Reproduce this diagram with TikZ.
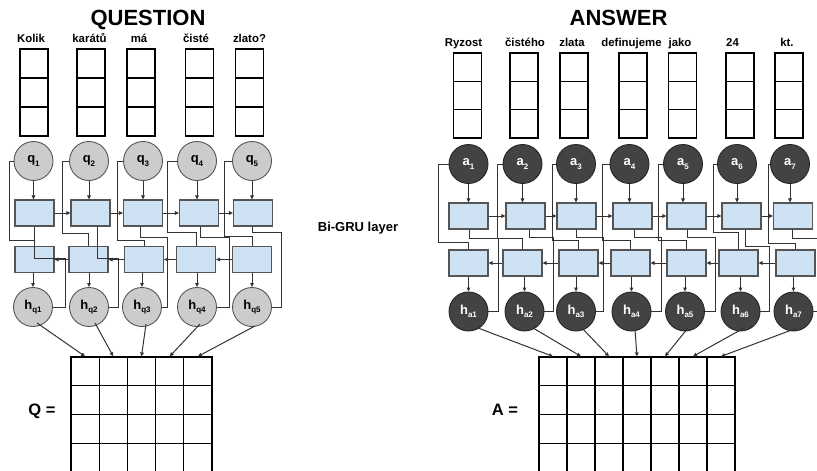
\documentclass[tikz,border=0pt]{standalone}
\usepackage{fontspec}
\setmainfont{Liberation Sans}
\usetikzlibrary{arrows.meta,calc}
\definecolor{qfill}{HTML}{CCCCCC}
\definecolor{afill}{HTML}{434343}
\definecolor{grufill}{HTML}{CFE2F3}
\definecolor{edgec}{HTML}{555555}
\definecolor{wirec}{HTML}{333333}
\newcommand{\clab}[2]{{\fontsize{13}{13}\selectfont #1}\raisebox{-3.5pt}{\fontsize{8}{8}\selectfont #2}}
\begin{document}
\begin{tikzpicture}[x=1pt,y=-1pt,
  every node/.style={font=\bfseries},
  wcell/.style={draw=black,line width=1.2pt,fill=white,minimum width=28pt,inner sep=0pt},
  mcell/.style={draw=black,line width=1.2pt,fill=white,minimum width=28.2pt,minimum height=28.7pt,inner sep=0pt},
  wlab/.style={anchor=base,font=\bfseries\fontsize{11.4}{12}\selectfont,inner sep=0pt},
  ttl/.style={anchor=base,font=\bfseries\fontsize{22}{22}\selectfont,inner sep=0pt},
  qc/.style={circle,draw=edgec,line width=0.9pt,fill=qfill,minimum size=39pt,inner sep=0pt},
  ac/.style={circle,draw=black!85,line width=0.9pt,fill=afill,text=white,minimum size=39pt,inner sep=0pt},
  gru/.style={rectangle,draw=edgec,line width=1.2pt,fill=grufill,minimum width=39pt,minimum height=26pt,inner sep=0pt},
  wire/.style={draw=wirec,line width=1pt},
  arr/.style={wire,-{Triangle[length=4pt,width=3.6pt]}}
]
\useasboundingbox (0,0) rectangle (817,471);
\fill[white] (0,0) rectangle (817,471);

% ---------------- QUESTION ----------------
\node[ttl] (qtitle) at (148,25) {QUESTION};
\foreach \x/\w [count=\i] in {31/Kolik,89.5/karátů,139/má,196/čisté,249.5/zlato?}
  \node[wlab] (qword\i) at (\x,42) {\w};
\foreach \x [count=\i] in {34,91,141,199.5,249.5}
  \foreach \y [count=\j] in {63.5,92.5,121.5}
    \node[wcell,minimum height=29pt] (qv\i\j) at (\x,\y) {};

\foreach \qx/\fx/\bx/\hx [count=\i] in {33.5/34.5/34.5/33, 89/90.5/88.5/89, 143/143/144/142, 197/199/196/197, 252/253/252/252}{
  \node[qc] (q\i) at (\qx,161) {\clab{q}{\i}};
  \node[gru] (f\i) at (\fx,213) {};
  \node[gru] (b\i) at (\bx,259.5) {};
  \node[qc] (hq\i) at (\hx,307) {\clab{h}{q\i}};
}
% inputs to forward cells, backward cells to outputs
\foreach \i in {1,...,5}{
  \draw[arr] (q\i.south) -- (q\i.south |- f\i.north);
  \draw[arr] (b\i.south -| hq\i) -- (hq\i.north);
}
% recurrent links
\foreach \i/\j in {1/2,2/3,3/4,4/5}{
  \draw[arr] (f\i.east) -- (f\j.west);
  \draw[arr] (b\j.west) -- (b\i.east);
}
% inputs to backward cells
\foreach \i/\xl/\yg in {1/9/240, 2/62/233, 3/117/240, 4/167/232, 5/224/236}
  \draw[wire] (q\i.west) -| (\xl,\yg) -| (b\i.north);
% forward cells to outputs
\foreach \i/\dx/\yg/\xr in {1/0/258/65, 2/6.5/258/118, 3/-3/237/167, 4/1/237/229, 5/-1/232/281}
  \draw[wire] ([xshift=\dx pt]f\i.south) |- (\xr,\yg) |- (hq\i.east);

% Q matrix
\foreach \c in {1,...,5}
  \foreach \r in {1,...,4}
    \node[mcell] (Q\r\c) at ({71+28.2*(\c-0.5)},{357+28.7*(\r-0.5)}) {};
\node[anchor=base,font=\bfseries\fontsize{16.5}{16.5}\selectfont,inner sep=0pt] (Qeq) at (42,415) {Q =};
\foreach \i/\ox/\oy in {1/4/16, 2/6/16, 3/4/17, 4/3/17, 5/3/19}
  \draw[arr] ($(hq\i)+(\ox,\oy)$) -- (Q1\i.north);

% label
\node[anchor=base,font=\bfseries\fontsize{13}{13}\selectfont,inner sep=0pt] (bigru) at (358,231.5) {Bi-GRU layer};

% ---------------- ANSWER ----------------
\node[ttl] (atitle) at (618.5,25) {ANSWER};
\foreach \x/\w [count=\i] in {463.5/Ryzost,525/čistého,572/zlata,631.5/definujeme,680/jako,732.5/24,787/kt.}
  \node[wlab] (aword\i) at (\x,46) {\w};
\foreach \x [count=\i] in {467.5,524,574,633,682.5,740,789}
  \foreach \y [count=\j] in {67.2,95.5,123.8}
    \node[wcell,minimum height=28.3pt] (av\i\j) at (\x,\y) {};

\foreach \ax/\fx/\bx/\hx [count=\i] in {468.5/468.5/468.5/468.5, 522.5/525.5/522.5/524.5, 576/576.5/578.5/576, 629.5/632.5/630.5/631.5, 683/686.5/686.5/685, 737/741.5/738.5/740.5, 790/793/795.5/793.5}{
  \node[ac] (a\i) at (\ax,164) {\clab{a}{\i}};
  \node[gru] (fa\i) at (\fx,216) {};
  \node[gru] (ba\i) at (\bx,263) {};
  \node[ac] (ha\i) at (\hx,311.5) {\clab{h}{a\i}};
}
\foreach \i in {1,...,7}{
  \draw[arr] (a\i.south) -- (a\i.south |- fa\i.north);
  \draw[arr] (ba\i.south -| ha\i) -- (ha\i.north);
}
\foreach \i/\j in {1/2,2/3,3/4,4/5,5/6,6/7}{
  \draw[arr] (fa\i.east) -- (fa\j.west);
  \draw[arr] (ba\j.west) -- (ba\i.east);
}
\foreach \i/\xl/\yg in {1/438/242, 2/497/238, 3/552/240, 4/602/240, 5/658/240, 6/713/232, 7/768/243}
  \draw[wire] (a\i.west) -| (\xl,\yg) -| (ba\i.north);
\foreach \i/\dx/\yg/\xr in {1/0.5/238/498, 2/3.5/237/553, 3/-0.5/237/603, 4/1.5/237/661, 5/0.5/237/715, 6/3.5/246/769, 7/-1/238/830}
  \draw[wire] ([xshift=\dx pt]fa\i.south) |- (\xr,\yg) |- (ha\i.east);

% A matrix
\foreach \c in {1,...,7}
  \foreach \r in {1,...,4}
    \node[mcell,minimum width=28pt] (A\r\c) at ({539+28*(\c-0.5)},{357+28.7*(\r-0.5)}) {};
\node[anchor=base,font=\bfseries\fontsize{16.5}{16.5}\selectfont,inner sep=0pt] (Aeq) at (505,415) {A =};
\foreach \i/\ox/\oy in {1/9.5/16.5, 2/8.5/16.5, 3/6/16.5, 4/3.5/18.5, 5/3/16.5, 6/3.5/16.5, 7/3.5/16.5}
  \draw[arr] ($(ha\i)+(\ox,\oy)$) -- (A1\i.north);
\end{tikzpicture}
\end{document}
